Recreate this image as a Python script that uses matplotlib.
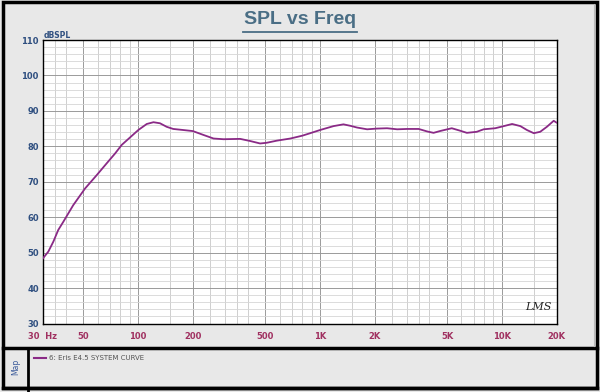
import numpy as np
import matplotlib
matplotlib.use("Agg")
import matplotlib.pyplot as plt
from matplotlib.patches import Rectangle
from matplotlib.lines import Line2D

# データ
freq_hz = [30, 32.1, 34.2, 36.4, 38.8, 44.0, 51.1, 59.3, 67.2, 74.8, 81.3, 90.3, 100.3,
           111.6, 121.5, 132, 143.7, 156, 177, 200, 229, 260, 295, 364, 413, 469, 510,
           580, 688, 800, 884, 1002, 1188, 1347, 1466, 1600, 1818, 2052, 2340, 2660,
           3015, 3490, 3885, 4215, 4570, 5310, 5905, 6430, 7290, 7950, 9200, 10260,
           11400, 12660, 13750, 15000, 16270, 17700, 19300, 20000]
spl_db = [48.4, 50.3, 53.1, 56.4, 58.7, 63.4, 68.1, 71.9, 75.2, 78.0, 80.4, 82.5, 84.6,
          86.3, 86.8, 86.5, 85.5, 84.9, 84.6, 84.3, 83.2, 82.2, 82.0, 82.1, 81.5, 80.8,
          81.0, 81.6, 82.2, 83.0, 83.7, 84.6, 85.7, 86.2, 85.8, 85.3, 84.8, 85.0, 85.1,
          84.8, 84.9, 84.9, 84.2, 83.8, 84.3, 85.1, 84.4, 83.8, 84.1, 84.8, 85.1, 85.7,
          86.3, 85.7, 84.6, 83.7, 84.1, 85.5, 87.2, 86.7]
x_ticks = [30, 50, 100, 200, 500, 1000, 2000, 5000, 10000, 20000]
x_labels = ["30  Hz", "50", "100", "200", "500", "1K", "2K", "5K", "10K", "20K"]
y_ticks = [30, 40, 50, 60, 70, 80, 90, 100, 110]
legend_label = "6: Eris E4.5 SYSTEM CURVE"

curve_color = "#8a2a86"
bg = "#e8e8e8"

fig = plt.figure(figsize=(6, 3.92), dpi=100)
fig.patch.set_facecolor(bg)

# 外枠と区切り線
W, H = 600, 392
def fx(px): return px / W
def fy(py): return 1 - py / H

fig.add_artist(Rectangle((fx(3), fy(388)), fx(594), 386 / H, transform=fig.transFigure,
                         fill=False, lw=2.5, ec="black"))
fig.add_artist(Line2D([fx(3), fx(597)], [fy(348), fy(348)], transform=fig.transFigure, lw=2.5, color="black"))
fig.add_artist(Line2D([fx(3), fx(597)], [fy(388), fy(388)], transform=fig.transFigure, lw=2.5, color="black"))
fig.add_artist(Line2D([fx(28), fx(28)], [fy(348), fy(392)], transform=fig.transFigure, lw=2.0, color="black"))
fig.add_artist(Line2D([fx(594), fx(594)], [fy(4), fy(346)], transform=fig.transFigure, lw=0.8, color="#bbbbbb"))

# タイトル
fig.text(0.5, fy(20), "SPL vs Freq", ha="center", va="center", fontsize=14, fontweight="bold",
         color="#4a6e85", family="Liberation Sans")
fig.add_artist(Line2D([fx(243), fx(357)], [fy(32), fy(32)], transform=fig.transFigure, lw=1.3, color="#4a6e85"))

# グラフ本体
ax = fig.add_axes([fx(43), fy(323.5), (556.5 - 43) / W, (323.5 - 40) / H])
ax.set_facecolor("white")
ax.set_xscale("log")
ax.set_xlim(30, 20000)
ax.set_ylim(30, 110)

# 縦グリッド
for dec in [10, 100, 1000, 10000]:
    for m in [1, 1.5, 2, 2.5, 3, 3.5, 4, 5, 6, 7, 8, 9]:
        f = dec * m
        if 30 < f < 20000:
            dark = m in (1, 2, 5)
            ax.axvline(f, color="#9a9a9a" if dark else "#c8c8c8", lw=0.7 if dark else 0.6, zorder=1)
# 横グリッド
for v in range(32, 110, 2):
    major = v % 10 == 0
    ax.axhline(v, color="#9a9a9a" if major else "#d6d6d6", lw=0.7 if major else 0.6, zorder=1)

ax.plot(freq_hz, spl_db, color=curve_color, lw=1.3, zorder=3, solid_joinstyle="round")

ax.set_xticks(x_ticks)
ax.set_xticklabels(x_labels)
ax.xaxis.set_minor_locator(matplotlib.ticker.NullLocator())
ax.set_yticks(y_ticks)
ax.tick_params(axis="x", length=0, pad=6, labelsize=6, labelcolor="#a03060")
ax.tick_params(axis="y", length=0, pad=3, labelsize=6, labelcolor="#2f4f80")
for lab in ax.get_xticklabels() + ax.get_yticklabels():
    lab.set_fontweight("bold")
for s in ax.spines.values():
    s.set_color("black")
    s.set_linewidth(1.0)

fig.text(fx(44), fy(35), "dBSPL", fontsize=5.5, fontweight="bold", color="#2f4f80", va="center")
ax.text(0.965, 0.04, "LMS", transform=ax.transAxes, ha="center", va="bottom",
        fontsize=8, style="italic", color="#222222", family="DejaVu Serif")

# 凡例
fig.add_artist(Line2D([fx(34), fx(46)], [fy(358), fy(358)], transform=fig.transFigure, lw=1.5, color=curve_color))
fig.text(fx(49), fy(358), legend_label, fontsize=5, color="#555555", va="center")
fig.text(fx(16), fy(367), "Map", fontsize=5.5, color="#3a5a9a", rotation=90, ha="center", va="center")

fig.savefig("out.png", dpi=100, facecolor=fig.get_facecolor())
